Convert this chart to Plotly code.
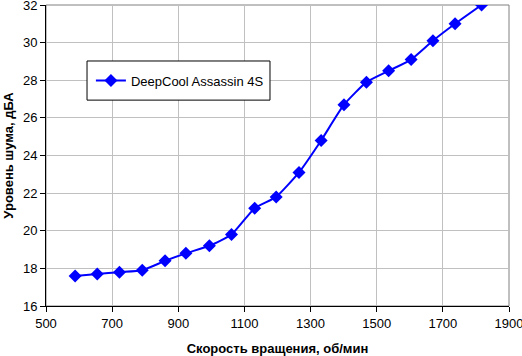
import plotly.graph_objects as go

rpm = [588, 655, 722, 791, 860, 923, 994, 1061, 1131, 1196, 1265, 1332, 1401, 1469, 1536, 1604, 1670, 1737, 1817]
noise = [17.6, 17.7, 17.8, 17.9, 18.4, 18.8, 19.2, 19.8, 21.2, 21.8, 23.1, 24.8, 26.7, 27.9, 28.5, 29.1, 30.1, 31.0, 32.0]
series_name = "DeepCool Assassin 4S"
x_title = "Скорость вращения, об/мин"
y_title = "Уровень шума, дБА"

fig = go.Figure()
fig.add_trace(go.Scatter(
    x=rpm, y=noise, name=series_name, mode="lines+markers",
    line=dict(color="#0000FF", width=2, shape="spline", smoothing=0.5),
    marker=dict(symbol="diamond", size=10, color="#0000FF"),
    showlegend=True,
))

font = "Liberation Sans, Arial, sans-serif"
fig.update_layout(
    width=522, height=356,
    margin=dict(l=46, r=13, t=5, b=50, autoexpand=False),
    paper_bgcolor="white", plot_bgcolor="white",
    font=dict(family=font, size=13, color="black"),
    showlegend=True,
    legend=dict(x=0.097, y=0.749, xanchor="left", yanchor="middle",
                bgcolor="rgba(0,0,0,0)", borderwidth=0,
                font=dict(size=13, family=font)),
    shapes=[
        dict(type="rect", xref="paper", yref="paper", x0=0, y0=0, x1=1, y1=1,
             line=dict(color="#808080", width=1), layer="below"),
        dict(type="rect", xref="paper", yref="paper", x0=0.0886, y0=0.684, x1=0.4838, y1=0.814,
             line=dict(color="black", width=1), fillcolor="white", layer="above"),
    ],
)
fig.update_xaxes(range=[500, 1900], dtick=200, tick0=500, showgrid=True, gridcolor="#C0C0C0",
                 gridwidth=1, showline=True, linecolor="black", linewidth=1,
                 ticks="outside", ticklen=5, tickcolor="black", zeroline=False,
                 automargin=False, ticklabeloverflow="allow",
                 title=dict(text="<b>" + x_title + "</b>", font=dict(size=13), standoff=14))
fig.update_yaxes(range=[16, 32], dtick=2, tick0=16, showgrid=True, gridcolor="#C0C0C0",
                 gridwidth=1, showline=True, linecolor="black", linewidth=1,
                 ticks="outside", ticklen=5, tickcolor="black", zeroline=False,
                 automargin=False, ticklabeloverflow="allow",
                 title=dict(text="<b>" + y_title + "</b>", font=dict(size=13), standoff=6))

fig.write_html("out.html", config={"displayModeBar": False},
               post_script="document.body.style.margin='0';document.body.style.padding='0';")
